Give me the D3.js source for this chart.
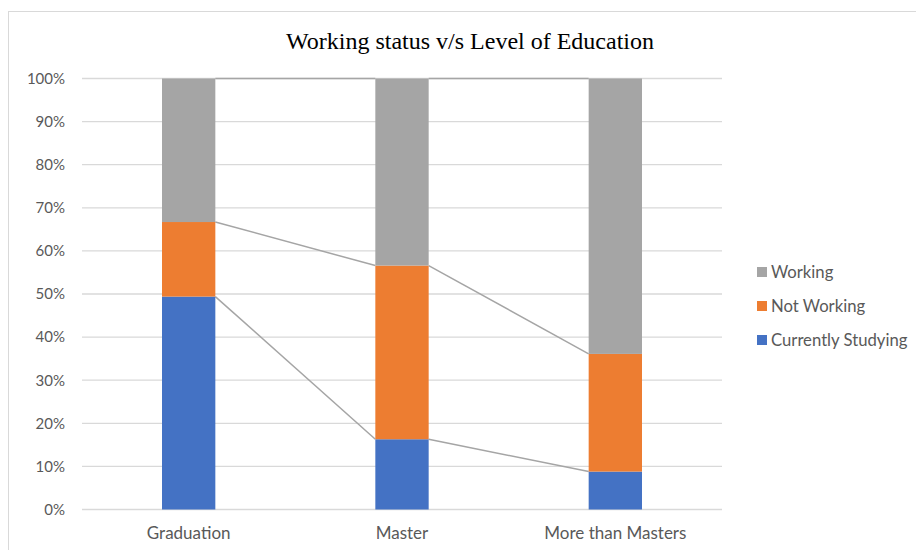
<!DOCTYPE html>
<html lang="en">
<head>
  <meta charset="UTF-8">
  <title>Working status v/s Level of Education</title>
  <script src="https://d3js.org/d3.v7.min.js"></script>
  <style>
    body { margin: 0; background: #fff; }
    svg text { font-family: Lato, "Noto Sans", sans-serif; fill: #595959; }
    .title { font-family: "Liberation Serif", "Times New Roman", serif; fill: #000; }
  </style>
</head>
<body>
  <svg id="chart" width="916" height="550"></svg>

  <script>
    // data (percent of each education level)
    const categories = ["Graduation", "Master", "More than Masters"];
    const seriesNames = ["Currently Studying", "Not Working", "Working"];
    const studying   = [49.4, 16.3, 8.8];
    const notWorking = [17.3, 40.3, 27.3];
    const working    = [33.3, 43.4, 63.9];
    const yTicks = [0, 10, 20, 30, 40, 50, 60, 70, 80, 90, 100];
    const colors = ["#4472c4", "#ed7d31", "#a5a5a5"];

    const rows = categories.map((c, i) => ({
      cat: c,
      "Currently Studying": studying[i],
      "Not Working": notWorking[i],
      "Working": working[i]
    }));

    const svg = d3.select("#chart");

    // chart frame (only top and left edges show in the picture)
    svg.append("rect").attr("x", 8.5).attr("y", 11.5).attr("width", 940).attr("height", 600)
      .attr("fill", "none").attr("stroke", "#d9d9d9");

    svg.append("text").attr("class", "title")
      .attr("x", 470).attr("y", 49).attr("text-anchor", "middle")
      .style("font-size", "24px")
      .text("Working status v/s Level of Education");

    const x = d3.scaleBand().domain(categories).range([82, 722]);
    const y = d3.scaleLinear().domain([0, 100]).range([509.5, 78.5]);
    const barW = x.bandwidth() / 4;  // gap width 300%

    // gridlines
    svg.append("g").selectAll("line").data(yTicks).join("line")
      .attr("x1", 82).attr("x2", 722)
      .attr("y1", d => y(d)).attr("y2", d => y(d))
      .attr("stroke", "#d9d9d9").attr("stroke-width", 1.3);

    // y axis labels
    const yAxis = d3.axisLeft(y).tickValues(yTicks).tickFormat(d => d + "%").tickSize(0).tickPadding(17);
    svg.append("g").attr("transform", "translate(82,0)").call(yAxis)
      .call(g => g.select(".domain").remove())
      .selectAll("text").style("font-size", "15px").attr("fill", "#595959")
      .attr("font-family", null);

    // x axis labels
    const xAxis = d3.axisBottom(x).tickSize(0).tickPadding(17);
    svg.append("g").attr("transform", "translate(0,509.5)").call(xAxis)
      .call(g => g.select(".domain").remove())
      .selectAll("text").style("font-size", "17px").attr("fill", "#595959")
      .attr("font-family", null);

    const stack = d3.stack().keys(seriesNames)(rows);

    // series lines between bars
    const links = [];
    stack.forEach(layer => {
      for (let i = 0; i < categories.length - 1; i++) {
        links.push({ a: layer[i], b: layer[i + 1], i: i });
      }
    });
    svg.append("g").selectAll("line").data(links).join("line")
      .attr("x1", d => x(categories[d.i]) + x.bandwidth() / 2 + barW / 2)
      .attr("x2", d => x(categories[d.i + 1]) + x.bandwidth() / 2 - barW / 2)
      .attr("y1", d => y(d.a[1]))
      .attr("y2", d => y(d.b[1]))
      .attr("stroke", "#a5a5a5").attr("stroke-width", 1.5);

    // stacked bars
    svg.append("g").selectAll("g").data(stack).join("g")
      .attr("fill", (d, i) => colors[i])
      .selectAll("rect").data(d => d).join("rect")
      .attr("x", d => x(d.data.cat) + x.bandwidth() / 2 - barW / 2)
      .attr("width", barW)
      .attr("y", d => y(d[1]))
      .attr("height", d => y(d[0]) - y(d[1]));

    // legend (top entry is the top series)
    const legendItems = seriesNames.slice().reverse();
    const leg = svg.append("g").selectAll("g").data(legendItems).join("g")
      .attr("transform", (d, i) => `translate(757,${272 + i * 34})`);
    leg.append("rect").attr("x", 0).attr("y", -5).attr("width", 10).attr("height", 10)
      .attr("fill", d => colors[seriesNames.indexOf(d)]);
    leg.append("text").attr("x", 14).attr("y", 0).attr("dy", "0.35em")
      .style("font-size", "16.7px").text(d => d);
  </script>
</body>
</html>
